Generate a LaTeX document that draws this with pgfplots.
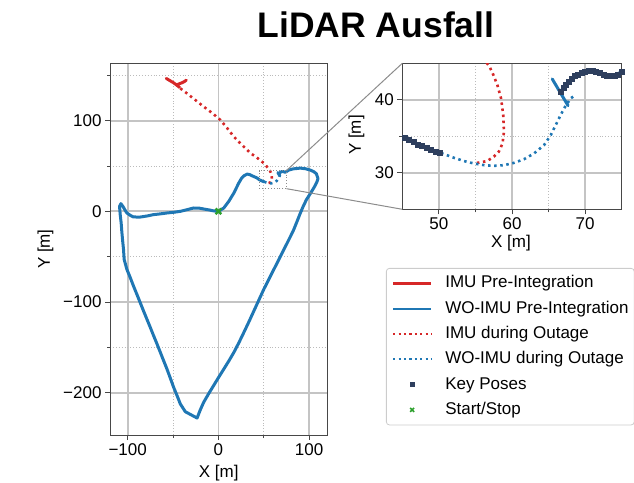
\documentclass[border=0pt]{standalone}
\usepackage{fontspec}
\setmainfont{Liberation Sans}
\usepackage{pgfplots}
\usepackage{pgfplotstable}
\pgfplotsset{compat=1.18}
\definecolor{tabblue}{HTML}{1F77B4}
\definecolor{tabred}{HTML}{D62728}
\definecolor{tabgreen}{HTML}{2CA02C}
\definecolor{keypose}{HTML}{2E3F5E}
\definecolor{gridmaj}{HTML}{C4C4C4}
\definecolor{gridmin}{HTML}{BBBBBB}
\definecolor{framec}{HTML}{474747}

% WO-IMU Pre-Integration (solid blue), continuous path around the loop
\pgfplotstableread[row sep=\\]{
x y\\
66.66 41.1\\ 67.1 41.8\\ 67.8 42.5\\ 68.5 43.2\\ 69.2 43.6\\ 70.1 43.9\\ 71.2 43.9\\ 72.1 43.6\\ 73 43.3\\ 74 43.3\\ 75 43.86\\
77.5 45.5\\ 82 46.8\\ 90.3 47.7\\ 96 47\\ 101.3 45.5\\ 105 43.8\\ 107.9 41.6\\ 109.7 36.1\\ 108.6 32.5\\ 105.5 26.5\\
101.7 20.2\\ 97 12.9\\ 93 4.5\\ 89.6 -3.6\\ 86.5 -11.5\\ 83 -20.2\\ 79.5 -27.5\\ 75.9 -34.7\\ 70.2 -45.9\\ 66.7 -53\\
61.1 -64\\ 55.5 -75\\ 50 -86\\ 44.5 -98\\ 39 -110\\ 33.5 -122\\ 28 -133.6\\ 22.5 -145\\ 17 -155.6\\ 11.5 -165\\ 5.9 -174\\
0.3 -183\\ -5.2 -192\\ -10.7 -201\\ -16.2 -210.5\\ -20 -219\\ -23.5 -228\\ -30 -224.5\\ -36.5 -221\\ -42 -212.4\\
-45.7 -203\\ -49.4 -194\\ -53 -184\\ -56.7 -174\\ -60.3 -165\\ -64 -155.6\\ -67.8 -146\\ -71.5 -137\\ -75.1 -128\\
-78.8 -119\\ -82.5 -110\\ -86.2 -100.7\\ -89.9 -91.5\\ -93.6 -82.4\\ -97.2 -73\\ -100.9 -64\\ -103.9 -53\\ -104.6 -42\\
-105.7 -31\\ -106.5 -22\\ -107.2 -12.8\\ -108.2 -4\\ -109 5.5\\ -107.5 8.5\\ -105.3 5.5\\ -103 1.5\\ -100.9 -1.8\\
-97 -4.5\\ -93.6 -6.2\\ -86.2 -6.3\\ -78 -5\\ -71.5 -3.6\\ -64 -2.8\\ -56.7 -1.8\\ -49 -1\\ -42 0\\ -34 2\\ -27.3 3.7\\
-21 3.5\\ -16.2 2.6\\ -10 1.5\\ -5.2 0.5\\ 0 0\\ 5.9 3.7\\ 11.4 11\\ 17 20.2\\ 22.4 31.2\\ 25.5 36.5\\ 28 39.2\\
31.7 41.1\\ 34.5 40.5\\ 37.2 39.2\\ 42.8 36.7\\ 45 34.9\\ 46.6 34.15\\ 48 33.55\\ 49.1 33.1\\ 50.3 32.7\\
}\bluesolid

% short blue jump segment after the outage
\pgfplotstableread[row sep=\\]{
x y\\
65.5 42.85\\ 67.66 39.2\\
}\bluejump

% WO-IMU during Outage (dotted blue)
\pgfplotstableread[row sep=\\]{
x y\\
50.3 32.7\\ 52.07 32.05\\ 53.44 31.6\\ 54.8 31.27\\ 56.17 31.04\\ 57.54 30.95\\ 58.9 31.04\\ 60.28 31.36\\
61.64 31.86\\ 63 32.64\\ 64.38 33.79\\ 65.3 35.16\\ 66.2 37\\ 67.1 38.8\\ 68.03 40.2\\ 68.7 40.65\\
}\bluedot

% IMU during Outage (dotted red)
\pgfplotstableread[row sep=\\]{
x y\\
55.2 31.35\\ 56.6 31.6\\ 57.5 32.2\\ 58.2 32.9\\ 58.7 34\\ 58.9 35.6\\ 58.8 37.9\\ 58.5 40.2\\ 58 42\\
57.45 43.4\\ 56.95 44.5\\ 55.6 46.3\\ 53 49.8\\ 50 53.2\\ 43 58.8\\ 35.4 64.2\\ 26 73.2\\ 16.9 82.4\\
9.5 92\\ 2.2 100.8\\ -7 108.5\\ -16.2 115.4\\ -23.5 121.3\\ -30.9 127.1\\ -36.5 131.5\\ -42 135.6\\
}\reddot

% IMU Pre-Integration (solid red), two strokes
\pgfplotstableread[row sep=\\]{
x y\\
-57.5 146.6\\ -53.5 144.2\\ -49.4 141.8\\ -46 139.3\\ -42.8 136.7\\
}\redA
\pgfplotstableread[row sep=\\]{
x y\\
-46.4 139.2\\ -43 140.8\\ -40.1 141.8\\ -37.5 143.2\\ -35.4 144.7\\
}\redB

% Key Poses
\pgfplotstableread[row sep=\\]{
x y\\
45.3 34.85\\ 45.9 34.5\\ 46.5 34.2\\ 47.1 33.9\\ 47.7 33.65\\ 48.3 33.4\\ 48.9 33.15\\ 49.5 32.95\\ 50.1 32.75\\
66.7 41.1\\ 67.0 41.6\\ 67.4 42.1\\ 67.8 42.5\\ 68.2 42.9\\ 68.6 43.25\\ 69.0 43.5\\ 69.5 43.75\\ 70.0 43.9\\
70.5 43.95\\ 71.0 43.95\\ 71.5 43.85\\ 72.0 43.65\\ 72.5 43.45\\ 73.0 43.3\\ 73.5 43.25\\ 74.0 43.3\\ 74.5 43.5\\ 75.0 43.8\\
}\keyposes

% Start/Stop
\pgfplotstableread[row sep=\\]{
x y\\
0 0\\
}\startstop

\pgfplotsset{
  mystyle/.style={
    scale only axis,
    axis line style={framec, line width=1pt},
    tick align=outside,
    tick pos=left,
    major tick length=5pt,
    minor tick length=3pt,
    every tick/.style={framec, line width=1pt},
    grid=both,
    major grid style={gridmaj, line width=1.8pt},
    minor grid style={gridmin, line width=0.9pt, dotted},
    tick label style={font=\fontsize{17}{20}\selectfont},
    label style={font=\fontsize{17}{20}\selectfont},
    /pgf/number format/assume math mode=true,
  },
  solidline/.style={line width=3pt, line join=round, line cap=round},
  dotline/.style={line width=2.6pt, dash pattern=on 2.5pt off 3.6pt},
  linelegend/.style={legend image code/.code={\draw[##1] (0pt,0pt) -- (38pt,0pt);}},
  marklegend/.style={legend image code/.code={\draw[##1] plot coordinates {(19pt,0pt)};}},
}

\begin{document}
\begin{tikzpicture}
\useasboundingbox (0,0) rectangle (634pt,482pt);

\node[anchor=base, font=\fontsize{35.5}{40}\selectfont\bfseries] at (376pt,444.7pt) {LiDAR Ausfall};

\begin{axis}[mystyle, name=main,
  at={(110pt,47pt)}, anchor=south west,
  width=217.3pt, height=371.7pt,
  xmin=-119.5, xmax=120, ymin=-246.7, ymax=163.3,
  xtick={-100,0,100}, xticklabels={−100,0,100},
  ytick={-200,-100,0,100}, yticklabels={−200,−100,0,100},
  minor xtick={-50,50}, minor ytick={-150,-50,50,150},
  xlabel={X [m]}, ylabel={Y [m]},
  xlabel style={at={(rel axis cs:0.5,-0.1036)}, anchor=center},
  ylabel style={at={(rel axis cs:-0.297,0.5)}, anchor=center},
  legend style={at={(1.270,0.4493)}, anchor=north west,
    draw=black!20, line width=0.8pt, rounded corners=3pt, fill=white,
    font=\fontsize{17}{20}\selectfont,
    inner xsep=5.7pt, inner ysep=7pt,
    row sep=9.3pt, column sep=13pt,
    nodes={inner sep=0pt, text height=12.5pt, text depth=3.5pt}},
  legend cell align=left,
]
\addplot[forget plot, tabred, dotline] table {\reddot};
\addplot[forget plot, tabblue, dotline] table {\bluedot};
\addplot[forget plot, tabblue, solidline] table {\bluesolid};
\addplot[forget plot, tabblue, solidline] table {\bluejump};
\addplot[forget plot, tabred, solidline] table {\redA};
\addplot[forget plot, tabred, solidline] table {\redB};
\addplot[forget plot, only marks, mark=x, mark size=4pt, tabgreen, mark options={line width=2.4pt}] table {\startstop};

\draw[black!45, line width=0.9pt, dotted] (axis cs:45,25) rectangle (axis cs:75,45);
\coordinate (zTR) at (axis cs:75,45);
\coordinate (zBR) at (axis cs:75,25);

\addlegendimage{linelegend, tabred, line width=2.2pt}
\addlegendentry{IMU Pre-Integration}
\addlegendimage{linelegend, tabblue, line width=2.2pt}
\addlegendentry{WO-IMU Pre-Integration}
\addlegendimage{linelegend, tabred, line width=2.2pt, dash pattern=on 2.2pt off 3.2pt}
\addlegendentry{IMU during Outage}
\addlegendimage{linelegend, tabblue, line width=2.2pt, dash pattern=on 2.2pt off 3.2pt}
\addlegendentry{WO-IMU during Outage}
\addlegendimage{marklegend, only marks, mark=square*, mark size=2.2pt, keypose}
\addlegendentry{Key Poses}
\addlegendimage{marklegend, only marks, mark=x, mark size=2.8pt, tabgreen, mark options={line width=1.6pt}}
\addlegendentry{Start/Stop}
\end{axis}

\begin{axis}[mystyle, name=inset,
  at={(402.3pt,272.7pt)}, anchor=south west,
  width=219.4pt, height=146pt,
  xmin=45, xmax=75, ymin=25, ymax=45,
  xtick={50,60,70}, ytick={30,40},
  minor xtick={55,65}, minor ytick={35},
  xlabel={X [m]}, ylabel={Y [m]},
  xlabel style={at={(rel axis cs:0.495,-0.233)}, anchor=center},
  ylabel style={at={(rel axis cs:-0.209,0.509)}, anchor=center},
]
\addplot[tabred, dotline] table {\reddot};
\addplot[tabblue, dotline] table {\bluedot};
\addplot[tabblue, solidline] table {\bluesolid};
\addplot[only marks, mark=square*, mark size=2.5pt, keypose] table {\keyposes};
\addplot[tabblue, solidline] table {\bluejump};
\end{axis}

\draw[black!45, line width=1pt] (zTR) -- (inset.north west);
\draw[black!45, line width=1pt] (zBR) -- (inset.south west);
\end{tikzpicture}
\end{document}
